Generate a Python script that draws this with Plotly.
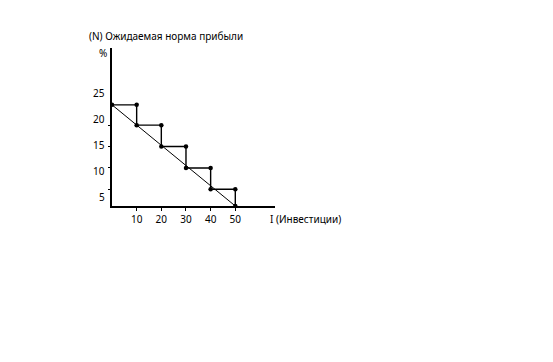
import plotly.graph_objects as go

# Data
investments = [0, 10, 20, 30, 40, 50]
rates = [22.7, 18.8, 14.7, 10.6, 6.5, 3.3]
x_ticks = [10, 20, 30, 40, 50]
y_tick_labels = [5, 10, 15, 20, 25]
y_level_ticks = [18.8, 14.7, 10.6, 6.5]

# Build staircase path from the data
stair_x, stair_y = [], []
for i in range(len(investments) - 1):
    stair_x += [investments[i], investments[i + 1]]
    stair_y += [rates[i], rates[i]]
stair_x.append(investments[-1])
stair_y.append(rates[-1])

FONT = "Noto Sans"

fig = go.Figure()
fig.add_trace(go.Scatter(
    x=[investments[0], investments[-1]], y=[rates[0], rates[-1]],
    mode="lines", line=dict(color="black", width=1), hoverinfo="skip"))
fig.add_trace(go.Scatter(
    x=stair_x, y=stair_y, mode="lines+markers",
    line=dict(color="black", width=1.4),
    marker=dict(color="black", size=4.5), hoverinfo="skip"))

annotations = [
    dict(text="(N) Ожидаемая норма прибыли", xref="paper", yref="paper",
         x=-0.152, y=1.075, xanchor="left", yanchor="middle", showarrow=False,
         font=dict(family=FONT, size=10, color="black")),
    dict(text="%", xref="paper", yref="paper", x=-0.055, y=0.97,
         xanchor="center", yanchor="middle", showarrow=False,
         font=dict(family=FONT, size=10, color="black")),
    dict(text="I (Инвестиции)", xref="paper", yref="y", x=0.96, y=rates[-1],
         xanchor="left", yanchor="middle", yshift=-13, showarrow=False,
         font=dict(family=FONT, size=10, color="black")),
]
for v in y_tick_labels:
    annotations.append(dict(text=str(v), xref="paper", yref="y", x=0, y=v,
                            xanchor="right", yanchor="middle", xshift=-5,
                            showarrow=False,
                            font=dict(family=FONT, size=10, color="black")))

fig.update_layout(
    width=545, height=354,
    margin=dict(l=104, r=278, t=40, b=156),
    paper_bgcolor="white", plot_bgcolor="white",
    showlegend=False,
    annotations=annotations,
    xaxis=dict(range=[0, 66.1], showline=True, linecolor="black", linewidth=1.5,
               showgrid=False, zeroline=False, tickvals=x_ticks,
               ticks="outside", ticklen=3, tickcolor="black", tickwidth=1,
               tickfont=dict(family=FONT, size=10, color="black")),
    yaxis=dict(range=[3.3, 33.6], showline=True, linecolor="black", linewidth=1.5,
               showgrid=False, zeroline=False, tickvals=y_level_ticks,
               ticks="outside", ticklen=2, tickcolor="black", tickwidth=1,
               showticklabels=False),
)

fig.write_html("out.html")
